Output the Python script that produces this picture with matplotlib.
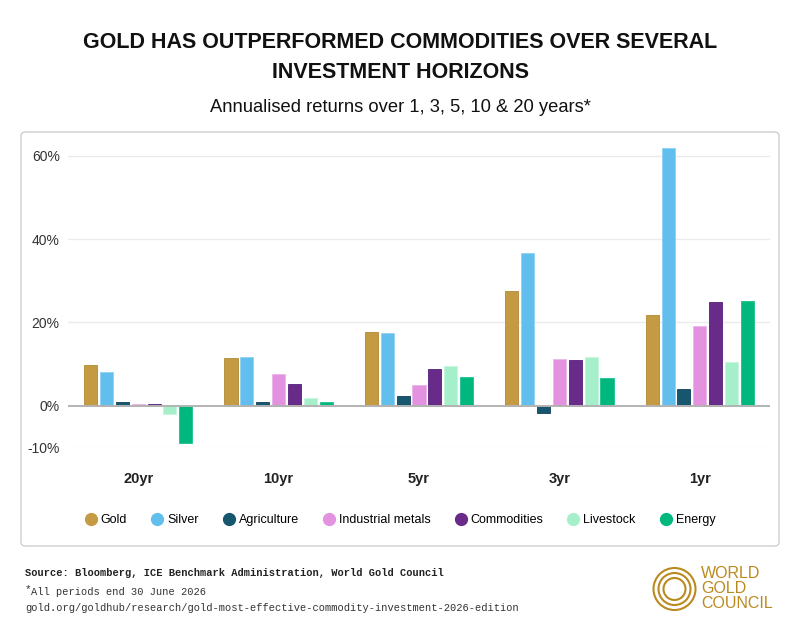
import numpy as np
import matplotlib
matplotlib.use('Agg')
from matplotlib import pyplot as plt
from matplotlib.patches import FancyBboxPatch, Ellipse

plt.rcParams['font.family'] = ['Liberation Sans', 'DejaVu Sans']

# data (annualised returns, %)
horizons = ['20yr', '10yr', '5yr', '3yr', '1yr']
series_names = ['Gold', 'Silver', 'Agriculture', 'Industrial metals', 'Commodities', 'Livestock', 'Energy']
gold = [9.8, 11.4, 17.6, 27.5, 21.8]
silver = [8.2, 11.7, 17.4, 36.8, 61.9]
agriculture = [1.0, 0.9, 2.4, -1.8, 4.1]
industrial_metals = [0.5, 7.6, 5.0, 11.2, 19.1]
commodities = [0.4, 5.2, 8.7, 11.0, 24.9]
livestock = [-1.9, 1.9, 9.5, 11.8, 10.6]
energy = [-9.0, 1.0, 6.8, 6.6, 25.1]
yticks = [-10, 0, 20, 40, 60]

colors = ['#C49A42', '#62BFED', '#17566F', '#E292DF', '#692B8A', '#A5F0CB', '#00B77E']
edges = ['#B38A35', '#8ED3F5', '#0F4158', '#EDB3EA', '#52207A', '#C5F6DD', '#1AC48E']

all_series = [gold, silver, agriculture, industrial_metals, commodities, livestock, energy]

fig = plt.figure(figsize=(8, 6.35), dpi=100)
W, H = 800, 635

# panel box (behind the axes)
panel = FancyBboxPatch((21 / W, 1 - 546 / H), 758 / W, 414 / H,
                       boxstyle='round,pad=0,rounding_size=0.006',
                       transform=fig.transFigure, facecolor='white',
                       edgecolor='#cfcfcf', linewidth=1.0, zorder=-5)
fig.patches.append(panel)

ax = fig.add_axes([68 / W, 1 - 447.3 / H, 702 / W, (447.3 - 143.5) / H])
ax.set_facecolor('none')
ax.set_zorder(2)

x = np.arange(len(horizons))
slot = 0.113
width = 0.093
for j, (name, vals) in enumerate(zip(series_names, all_series)):
    ax.bar(x + (j - 3) * slot, vals, width=width, color=colors[j],
           edgecolor=edges[j], linewidth=0.6, label=name, zorder=3)

ax.set_xlim(-0.5, 4.5)
ax.set_ylim(-10, 63)
ax.set_yticks(yticks)
ax.set_yticklabels([f'{v}%' for v in yticks], fontsize=10, color='#333333')
for v in yticks:
    if v == 0:
        ax.axhline(v, color='#b3b3b3', linewidth=1.4, zorder=4)
    else:
        ax.axhline(v, color='#ebebeb', linewidth=1.0, zorder=1)

ax.set_xticks(x)
ax.set_xticklabels(horizons, fontsize=10.5, fontweight='bold', color='#222222')
ax.tick_params(axis='both', length=0)
ax.tick_params(axis='x', pad=17.5)
ax.tick_params(axis='y', pad=6)
for s in ax.spines.values():
    s.set_visible(False)

# legend
handles = [plt.Line2D([], [], marker='o', linestyle='none', markersize=8.5,
                      markerfacecolor=c, markeredgecolor=c) for c in colors]
fig.legend(handles, series_names, loc='center', bbox_to_anchor=(0.5, 1 - 520 / H),
           ncol=7, frameon=False, fontsize=9, handletextpad=0.3, columnspacing=1.9,
           handlelength=1.0)

# titles
fig.text(0.5, 1 - 43 / H, 'GOLD HAS OUTPERFORMED COMMODITIES OVER SEVERAL',
         ha='center', va='center', fontsize=15.5, fontweight='bold', color='#111111')
fig.text(0.5, 1 - 72 / H, 'INVESTMENT HORIZONS',
         ha='center', va='center', fontsize=15.5, fontweight='bold', color='#111111')
fig.text(0.5, 1 - 107 / H, 'Annualised returns over 1, 3, 5, 10 & 20 years*',
         ha='center', va='center', fontsize=13.2, color='#111111')

# footer
mono = ['Liberation Mono', 'DejaVu Sans Mono']
fig.text(25 / W, 1 - 573 / H, 'Source: Bloomberg, ICE Benchmark Administration, World Gold Council',
         ha='left', va='center', fontsize=7.5, fontweight='bold', family=mono, color='#222222')
fig.text(25 / W, 1 - 589 / H, '*', ha='left', va='center', fontsize=8, family=mono, color='#333333')
fig.text(31 / W, 1 - 592 / H, 'All periods end 30 June 2026',
         ha='left', va='center', fontsize=7.5, family=mono, color='#333333')
fig.text(25 / W, 1 - 608 / H, 'gold.org/goldhub/research/gold-most-effective-commodity-investment-2026-edition',
         ha='left', va='center', fontsize=7.5, family=mono, color='#333333')

# logo
logo_color = '#BA8A1F'
cx, cy = 674.5, 589
for r in [21, 16, 11]:
    fig.patches.append(Ellipse((cx / W, 1 - cy / H), 2 * r / W, 2 * r / H,
                               transform=fig.transFigure, fill=False,
                               edgecolor=logo_color, linewidth=1.5))
for i, line in enumerate(['WORLD', 'GOLD', 'COUNCIL']):
    fig.text(701 / W, 1 - (573 + 15.5 * i) / H, line, ha='left', va='center',
             fontsize=11.5, color=logo_color)

fig.savefig('out.png', dpi=100)
